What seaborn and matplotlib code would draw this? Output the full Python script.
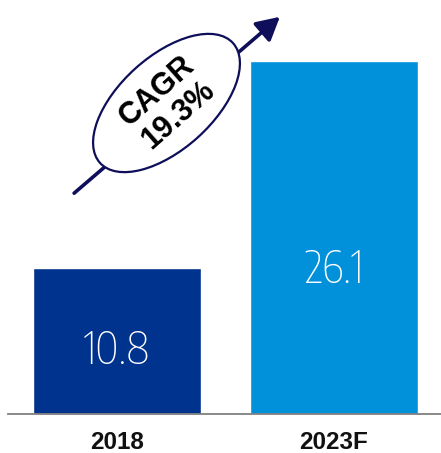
import matplotlib
matplotlib.use("Agg")
import matplotlib.pyplot as plt
import seaborn as sns
from matplotlib import font_manager as fm
from matplotlib.patches import Ellipse, FancyArrowPatch
from matplotlib.transforms import IdentityTransform

categories = ["2018", "2023F"]
values = [10.8, 26.1]
value_labels = ["10.8", "26.1"]
bar_colors = ["#00338D", "#0091DA"]
cagr_text = "CAGR\n19.3%"

sns.set_style("white")
plt.rcParams['font.family'] = ['Liberation Sans', 'DejaVu Sans']


def _w(w):
    if isinstance(w, str):
        return fm.weight_dict.get(w, 400)
    return w


def _s(s):
    if isinstance(s, str):
        return fm.stretch_dict.get(s, 500)
    return s


cands = []
for f in fm.fontManager.ttflist:
    nm = f.name.lower()
    if f.style != "normal":
        continue
    if "narrow" in nm or "condensed" in nm or _s(f.stretch) < 500:
        cands.append((_s(f.stretch), _w(f.weight), f))
if cands:
    cands.sort(key=lambda c: (c[0], c[1]))
    value_font = fm.FontProperties(fname=cands[0][2].fname)
else:
    value_font = fm.FontProperties(family="DejaVu Sans", stretch="condensed")

W, H = 441, 453
fig = plt.figure(figsize=(W / 100, H / 100), dpi=100)
ax = fig.add_axes([8 / W, 39 / H, 433 / W, 414 / H])

sns.barplot(x=categories, y=values, hue=categories, palette=bar_colors,
            legend=False, width=0.774, saturation=1, ax=ax)

ax.set_xlim(-0.502, 1.493)
ax.set_ylim(0, 30.6)
for s in ["top", "right", "left"]:
    ax.spines[s].set_visible(False)
ax.spines["bottom"].set_color("#808080")
ax.spines["bottom"].set_linewidth(1.3)
ax.set_yticks([])
ax.tick_params(axis="x", length=0, pad=12)
for lbl in ax.get_xticklabels():
    lbl.set_fontweight("bold")
    lbl.set_fontsize(17.5)
    lbl.set_color("#111111")
ax.set_xlabel("")
ax.set_ylabel("")

for i, (v, t) in enumerate(zip(values, value_labels)):
    y = v - 5.9 if i == 0 else v - 15.2
    ax.text(i, y, t, ha="center", va="center", color="white",
            fontproperties=value_font, fontsize=32)

tr = IdentityTransform()
arrow = FancyArrowPatch((72, H - 195), (282, H - 15), transform=tr,
                        arrowstyle="-|>,head_length=0.7,head_width=0.38",
                        mutation_scale=20, color="#0E0E5A", linewidth=2.6)
fig.add_artist(arrow)
ell = Ellipse((166.5, H - 103), width=179, height=93, angle=42,
              transform=tr, facecolor="white", edgecolor="#0E0E5A",
              linewidth=1.6)
fig.add_artist(ell)
fig.text(167.5, H - 103, cagr_text, transform=tr, rotation=41.5,
         rotation_mode="anchor", ha="center", va="center",
         multialignment="center", fontsize=22, fontweight="bold",
         color="black", linespacing=1.1)

fig.savefig("out.png", dpi=100)
